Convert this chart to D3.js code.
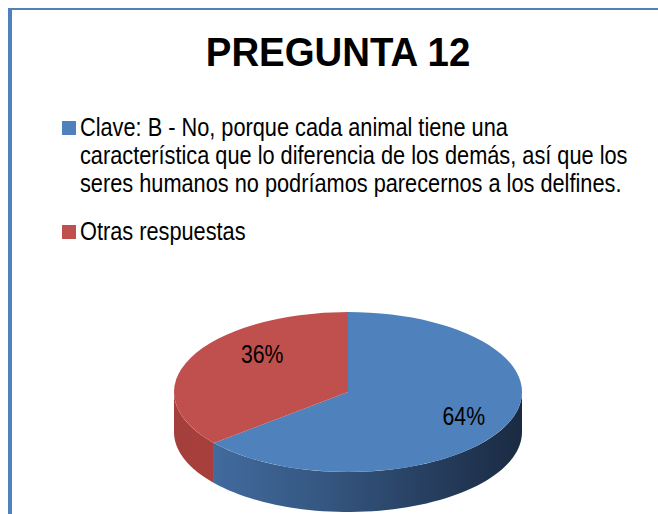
<!DOCTYPE html>
<html>
<head>
<meta charset="utf-8">
<script src="https://cdn.jsdelivr.net/npm/d3@7"></script>
<style>
  body { margin: 0; background: #fff; }
  svg { display: block; }
  text { font-family: "Liberation Sans", Arial, sans-serif; fill: #000; }
</style>
</head>
<body>
<svg width="658" height="514"></svg>
<script>
var svg = d3.select("svg"),
    width = +svg.attr("width"),
    height = +svg.attr("height");

// chart data
var title = "PREGUNTA 12";
var legendLines = [
    ["Clave: B - No, porque cada animal tiene una",
     "característica que lo diferencia de los demás, así que los",
     "seres humanos no podríamos parecernos a los delfines."],
    ["Otras respuestas"]
];
var values = [64, 36];
var labels = ["64%", "36%"];
var colors = ["#4F81BD", "#C0504D"];

// the reference uses a narrow font: draw text at (x,y) squeezed horizontally
function narrowText(parent, x, y, factor) {
    return parent.append("text")
        .attr("transform", "translate(" + x + "," + y + ") scale(" + factor + ",1)");
}

// frame lines
svg.append("rect").attr("x", 8).attr("y", 8).attr("width", width - 8).attr("height", 2).attr("fill", "#4F81BD");
svg.append("rect").attr("x", 8).attr("y", 8).attr("width", 4).attr("height", height - 8).attr("fill", "#4F81BD");

// title
narrowText(svg, 338, 66, 0.96)
    .attr("text-anchor", "middle")
    .attr("font-size", 40)
    .attr("font-weight", "bold")
    .text(title);

// legend
var legendTop = [121, 225];
var lineH = 28;
legendLines.forEach(function(lines, i) {
    svg.append("rect")
        .attr("x", 62).attr("y", legendTop[i])
        .attr("width", 14).attr("height", 14)
        .attr("fill", colors[i]);
    lines.forEach(function(line, j) {
        narrowText(svg, 80, legendTop[i] + 15 + j * lineH, 0.87)
            .attr("font-size", 25)
            .text(line);
    });
});

// 3d pie
var cx = 348, cy = 392, rx = 174, ry = 80, depth = 40;

var pie = d3.pie().sort(null).value(function(d) { return d; });
var arcs = pie(values);

var defs = svg.append("defs");
function sideGradient(id, stops) {
    var g = defs.append("linearGradient")
        .attr("id", id)
        .attr("gradientUnits", "userSpaceOnUse")
        .attr("x1", cx - rx).attr("x2", cx + rx)
        .attr("y1", 0).attr("y2", 0);
    stops.forEach(function(s) {
        g.append("stop").attr("offset", s[0]).attr("stop-color", s[1]);
    });
}
sideGradient("side0", [[0, "#4672a8"], [0.45, "#34557f"], [1, "#1a2a42"]]);
sideGradient("side1", [[0, "#a53f3c"], [1, "#b84845"]]);

function pt(a, dy) {
    return [cx + rx * Math.sin(a), cy - ry * Math.cos(a) + (dy || 0)];
}

// side walls, only the front half (angles PI/2 .. 3PI/2)
var gSide = svg.append("g");
arcs.forEach(function(d, i) {
    var a0 = Math.max(d.startAngle, Math.PI / 2),
        a1 = Math.min(d.endAngle, 3 * Math.PI / 2);
    if (a1 <= a0) return;
    var n = 60, top = [], bot = [];
    for (var k = 0; k <= n; k++) {
        var a = a0 + (a1 - a0) * k / n;
        top.push(pt(a, 0));
        bot.push(pt(a, depth));
    }
    var poly = top.concat(bot.reverse());
    gSide.append("path")
        .attr("d", "M" + poly.map(function(p) { return p[0].toFixed(2) + "," + p[1].toFixed(2); }).join("L") + "Z")
        .attr("fill", "url(#side" + i + ")");
});

// top face: d3.arc squashed vertically
var arc = d3.arc().innerRadius(0).outerRadius(rx);
var gTop = svg.append("g")
    .attr("transform", "translate(" + cx + "," + cy + ") scale(1," + (ry / rx) + ")");
gTop.selectAll("path")
    .data(arcs)
    .enter().append("path")
    .attr("d", arc)
    .attr("fill", function(d, i) { return colors[i]; });

// labels, placed on the top face near each slice's middle angle
function mid(d) { return (d.startAngle + d.endAngle) / 2; }
var gLab = svg.append("g");
arcs.forEach(function(d, i) {
    narrowText(gLab,
            cx + 0.64 * rx * Math.sin(mid(d)) + 15,
            cy - 0.91 * ry * Math.cos(mid(d)) + 2,
            0.85)
        .attr("text-anchor", "middle")
        .attr("font-size", 25)
        .text(labels[i]);
});
</script>
</body>
</html>
